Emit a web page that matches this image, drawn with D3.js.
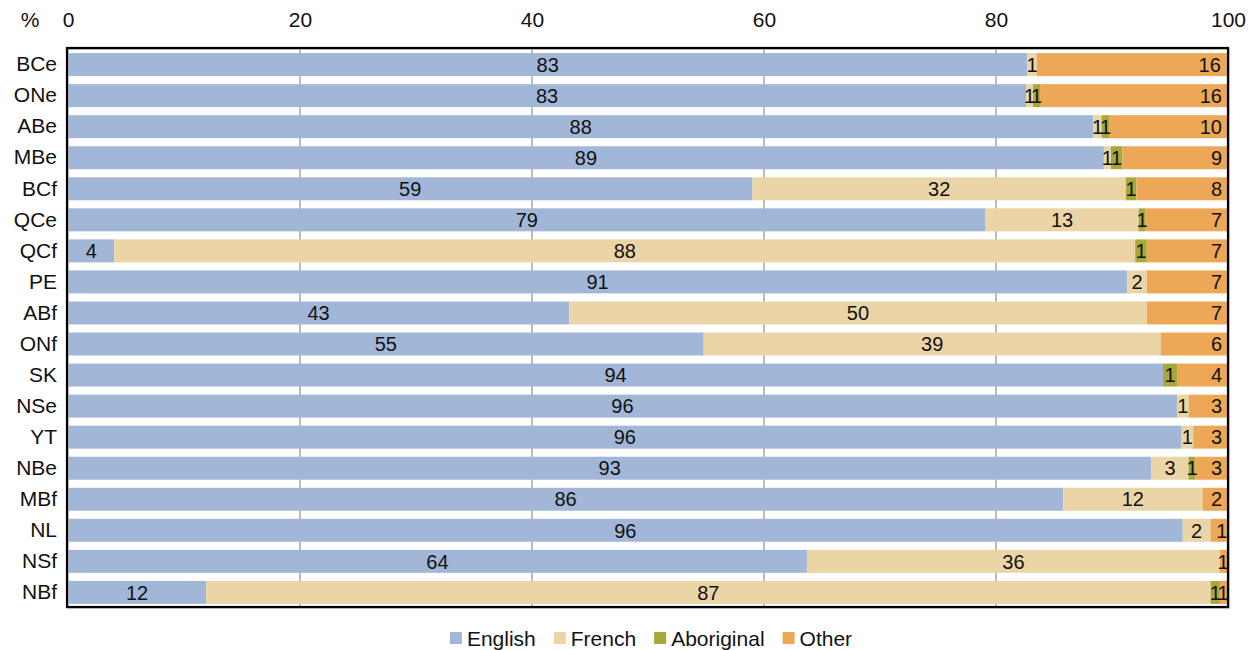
<!DOCTYPE html>
<html>
<head>
<meta charset="utf-8">
<script src="https://cdn.jsdelivr.net/npm/d3@7"></script>
<style>
  html, body { margin: 0; padding: 0; background: #fff; }
  svg { display: block; font-family: "Liberation Sans", Arial, sans-serif; }
</style>
</head>
<body>
<svg id="chart" width="1257" height="650"></svg>
<script>
// ---- data ----
const categories = ["BCe","ONe","ABe","MBe","BCf","QCe","QCf","PE","ABf","ONf","SK","NSe","YT","NBe","MBf","NL","NSf","NBf"];
const seriesNames = ["English","French","Aboriginal","Other"];
const english    = [82.7, 82.6, 88.4, 89.3, 59.0, 79.1,  4.0, 91.3, 43.2, 54.8, 94.4, 95.6, 96.0, 93.4, 85.8, 96.1, 63.7, 11.9];
const french     = [ 0.8,  0.6,  0.7,  0.6, 32.2, 13.2, 88.0,  1.7, 49.8, 39.4,  0.0,  1.0,  1.0,  3.2, 12.0,  2.4, 35.6, 86.6];
const aboriginal = [ 0.0,  0.6,  0.7,  1.0,  0.9,  0.6,  1.0,  0.0,  0.0,  0.0,  1.2,  0.0,  0.0,  0.6,  0.0,  0.0,  0.0,  0.8];
const other      = [16.4, 16.2, 10.2,  9.1,  7.9,  7.1,  7.0,  7.0,  7.0,  5.8,  4.4,  3.4,  3.0,  2.8,  2.2,  1.4,  0.7,  0.7];
const xTicks = [0, 20, 40, 60, 80, 100];
const colors = ["#a2b7d8", "#ebd5a6", "#a6a83a", "#eda857"];

(function () {
const rows = categories.map((c, i) => ({
  cat: c, English: english[i], French: french[i], Aboriginal: aboriginal[i], Other: other[i]
}));
const stacked = d3.stack().keys(seriesNames)(rows);

const svg = d3.select("#chart");
const pL = 67, pR = 1228, pT = 48, pB = 607;

const x = d3.scaleLinear().domain([0, 100]).range([pL + 1, pR]);
const y = d3.scaleBand().domain(categories).range([pT + 2, pB]).paddingInner(0.26).paddingOuter(0.1);
const color = d3.scaleOrdinal().domain(seriesNames).range(colors);

// gridlines
svg.append("g").selectAll("line")
  .data(xTicks.filter(t => t > 0 && t < 100))
  .join("line")
  .attr("x1", d => x(d)).attr("x2", d => x(d))
  .attr("y1", pT).attr("y2", pB)
  .attr("stroke", "#a6a6a6").attr("stroke-width", 1.5);

// bars
const layers = svg.append("g").selectAll("g")
  .data(stacked).join("g")
  .attr("fill", d => color(d.key));
layers.selectAll("rect")
  .data(d => d.map(v => ({v, key: d.key})))
  .join("rect")
  .attr("x", d => x(d.v[0]))
  .attr("width", d => Math.max(0, x(d.v[1]) - x(d.v[0])))
  .attr("y", d => y(d.v.data.cat))
  .attr("height", y.bandwidth());

// frame
svg.append("rect")
  .attr("x", pL + 1).attr("y", pT + 1)
  .attr("width", pR - pL).attr("height", pB - pT)
  .attr("fill", "none").attr("stroke", "#bdbdbd").attr("stroke-width", 1.5);
svg.append("rect")
  .attr("x", pL).attr("y", pT)
  .attr("width", pR - pL).attr("height", pB - pT)
  .attr("fill", "none").attr("stroke", "#000").attr("stroke-width", 2.2);

// data labels
const labG = svg.append("g").attr("font-size", 20).attr("fill", "#111");
stacked.forEach(layer => {
  layer.forEach(v => {
    const val = v[1] - v[0];
    if (val < 0.5) return;
    const txt = String(Math.round(val));
    const t = labG.append("text")
      .attr("y", y(v.data.cat) + y.bandwidth() / 2)
      .attr("dy", "0.36em")
      .text(txt);
    if (layer.key === "Other") {
      const tw = t.node().getComputedTextLength();
      const segW = x(v[1]) - x(v[0]);
      const pad = segW < tw + 12 ? -0.5 : 6;
      t.attr("x", x(v[1]) - pad).attr("text-anchor", "end");
    } else {
      t.attr("x", (x(v[0]) + x(v[1])) / 2).attr("text-anchor", "middle");
    }
  });
});

// top axis
const axis = d3.axisTop(x).tickValues(xTicks).tickSize(0).tickPadding(21).tickFormat(d3.format("d"));
const ax = svg.append("g").attr("transform", `translate(0,${pT})`).call(axis);
ax.select(".domain").remove();
ax.selectAll("text").attr("font-size", 21).attr("fill", "#111").attr("font-family", "Liberation Sans, Arial, sans-serif");
svg.append("text").attr("x", 30).attr("y", pT - 21).attr("text-anchor", "middle")
  .attr("font-size", 21).attr("fill", "#111").text("%");

// category axis
const yAxis = d3.axisLeft(y).tickSize(0).tickPadding(10);
const yg = svg.append("g").attr("transform", `translate(${pL},0)`).call(yAxis);
yg.select(".domain").remove();
yg.selectAll("text").attr("font-size", 21).attr("fill", "#111").attr("font-family", "Liberation Sans, Arial, sans-serif");

// legend
const leg = svg.append("g").attr("font-size", 21).attr("fill", "#111");
let cx = 0;
seriesNames.forEach((s, i) => {
  const g = leg.append("g").attr("transform", `translate(${cx},0)`);
  g.append("rect").attr("x", 0).attr("y", -6).attr("width", 12).attr("height", 12).attr("fill", colors[i]);
  const t = g.append("text").attr("x", 17).attr("dy", "0.36em").text(s);
  const w = 17 + t.node().getComputedTextLength();
  cx += w + 18;
});
const legW = cx - 18;
leg.attr("transform", `translate(${651 - legW / 2},638)`);
})();
</script>
</body>
</html>
